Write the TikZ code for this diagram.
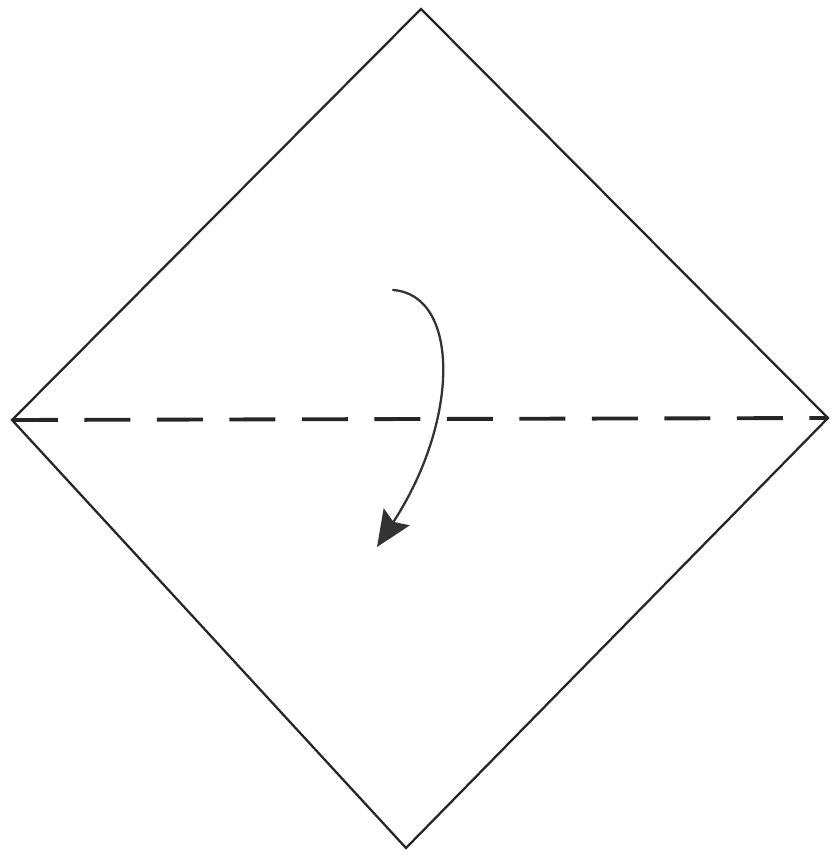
\documentclass[tikz,border=0pt]{standalone}
\usetikzlibrary{arrows.meta}

\begin{document}
\begin{tikzpicture}[
    x=0.02cm, y=-0.02cm,
    paper/.style={line width=1.3pt, black!85, line join=miter},
    valley/.style={line width=2.2pt, black!85, dash pattern=on 0.92cm off 0.53cm},
    foldarrow/.style={-{Stealth[length=0.72cm, width=0.62cm, inset=0.12cm]}, line width=1.3pt, black!80, line cap=round}
]

% === FRAME ===
\useasboundingbox (0,0) rectangle (831,857);

% Corners of the square
\coordinate (T) at (421,9);
\coordinate (L) at (12,420);
\coordinate (R) at (828,418);
\coordinate (B) at (406,848);

% Paper outline
\draw[paper] (T) -- (R) -- (B) -- (L) -- cycle;

% Valley fold
\draw[valley] (L) -- (R);

% === FOLD ARROW ===
\coordinate (start) at (393,290);
\coordinate (tip) at (377,547);
\draw[foldarrow] (start) .. controls (460,295) and (460,420) .. (tip);

\end{tikzpicture}
\end{document}
